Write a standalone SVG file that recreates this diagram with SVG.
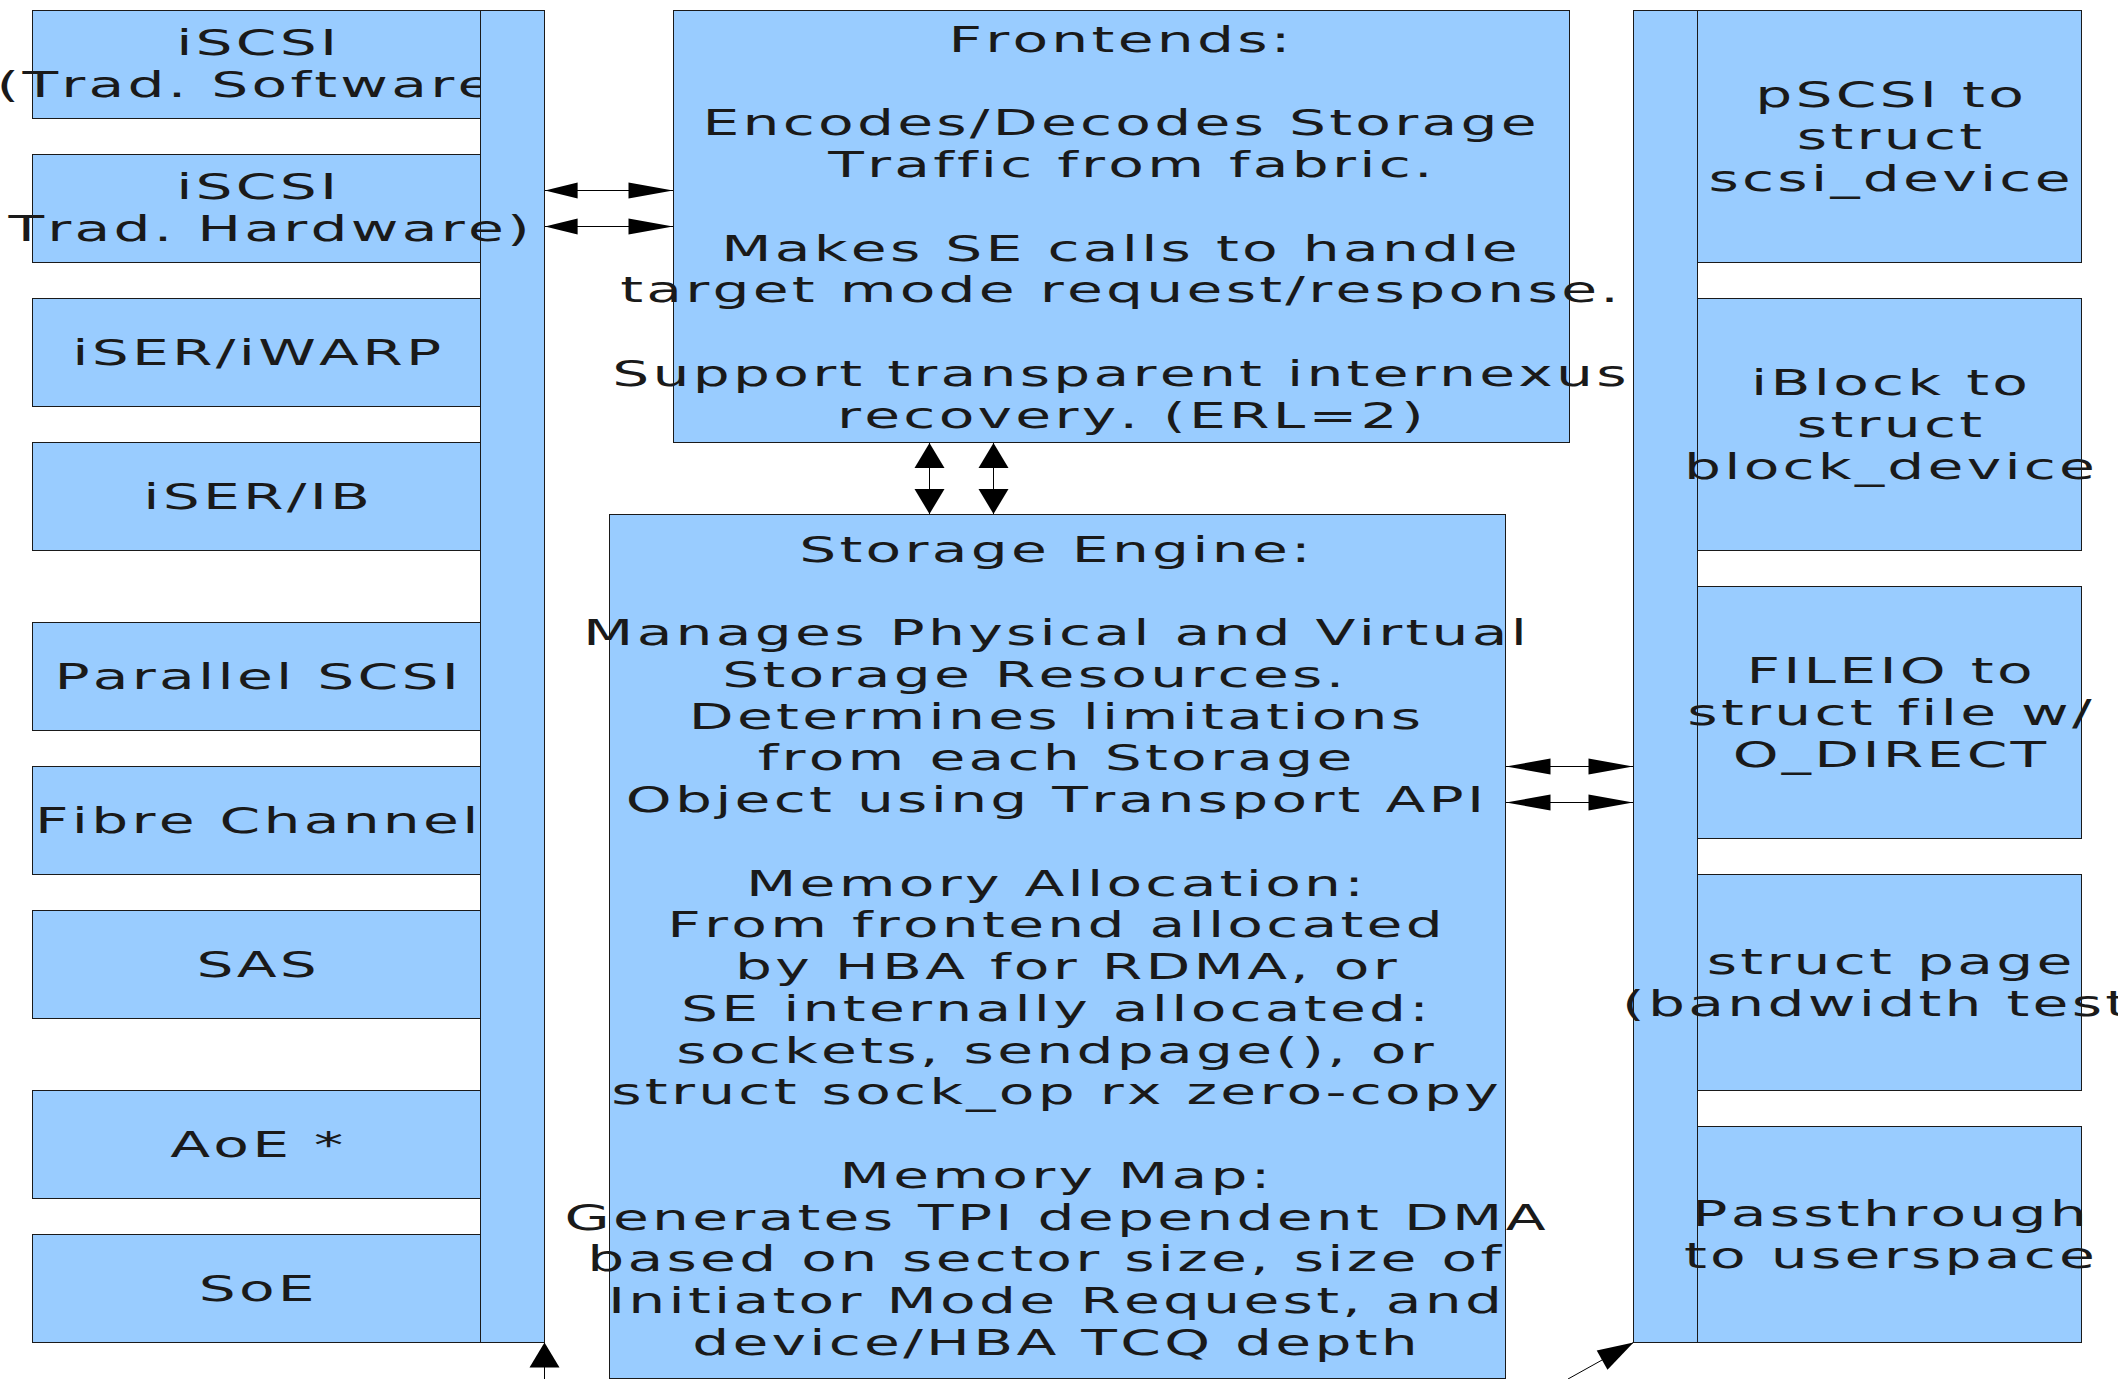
<svg xmlns="http://www.w3.org/2000/svg" width="2118" height="1379" viewBox="0 0 2118 1379">
<defs>
<style>
.box{fill:#99ccff;stroke:#1a1a1a;stroke-width:1}
.t{font-family:"DejaVu Sans","Liberation Sans",sans-serif;font-size:36px;fill:#1a1a1a;text-anchor:middle;letter-spacing:2px;font-kerning:none}
.s{text-anchor:start}
.e{text-anchor:end}
.ln{stroke:#000;stroke-width:1;fill:none}
.ah{fill:#000;stroke:none}
</style>
</defs>
<rect width="2118" height="1379" fill="#ffffff"/>

<g id="iscsi-sw">
<rect class="box" x="32.5" y="10.5" width="448" height="108"/>
<text class="t" transform="matrix(1.62 0 0 1 258.3 0)" x="0" y="55.5">iSCSI</text>
<text class="t s" transform="matrix(1.62 0 0 1 -3.5 0)" x="0" y="97.5">(Trad. Software</text>
</g>

<g id="left-bus">
<rect class="box" x="480.5" y="10.5" width="64" height="1332"/>
</g>

<g id="iscsi-hw">
<rect class="box" x="32.5" y="154.5" width="448" height="108"/>
<text class="t" transform="matrix(1.62 0 0 1 258.3 0)" x="0" y="199.5">iSCSI</text>
<text class="t e" transform="matrix(1.62 0 0 1 533 0)" x="0" y="241.5">Trad. Hardware)</text>
</g>

<g id="iser-iwarp">
<rect class="box" x="32.5" y="298.5" width="448" height="108"/>
<text class="t" transform="matrix(1.62 0 0 1 258.3 0)" x="0" y="365">iSER/iWARP</text>
</g>

<g id="iser-ib">
<rect class="box" x="32.5" y="442.5" width="448" height="108"/>
<text class="t" transform="matrix(1.62 0 0 1 258.3 0)" x="0" y="509">iSER/IB</text>
</g>

<g id="parallel-scsi">
<rect class="box" x="32.5" y="622.5" width="448" height="108"/>
<text class="t" transform="matrix(1.62 0 0 1 258.3 0)" x="0" y="689">Parallel SCSI</text>
</g>

<g id="fibre-channel">
<rect class="box" x="32.5" y="766.5" width="448" height="108"/>
<text class="t" transform="matrix(1.62 0 0 1 258.3 0)" x="0" y="833">Fibre Channel</text>
</g>

<g id="sas">
<rect class="box" x="32.5" y="910.5" width="448" height="108"/>
<text class="t" transform="matrix(1.62 0 0 1 258.3 0)" x="0" y="977">SAS</text>
</g>

<g id="aoe">
<rect class="box" x="32.5" y="1090.5" width="448" height="108"/>
<text class="t" transform="matrix(1.62 0 0 1 258.3 0)" x="0" y="1157">AoE *</text>
</g>

<g id="soe">
<rect class="box" x="32.5" y="1234.5" width="448" height="108"/>
<text class="t" transform="matrix(1.62 0 0 1 258.3 0)" x="0" y="1301">SoE</text>
</g>

<g id="frontends">
<rect class="box" x="673.5" y="10.5" width="896" height="432"/>
<text class="t" transform="matrix(1.62 0 0 1 1121.1 0)"><tspan x="0" y="52">Frontends:</tspan><tspan
 x="0" y="135.5">Encodes/Decodes Storage</tspan><tspan
 x="0" y="177.25">&#160;Traffic from fabric.</tspan><tspan
 x="0" y="260.75">Makes SE calls to handle</tspan><tspan
 x="0" y="302.5">target mode request/response.</tspan><tspan
 x="0" y="386">Support transparent internexus</tspan><tspan
 x="0" y="427.75">&#160;recovery. (ERL=2)</tspan></text>
</g>

<g id="storage-engine">
<rect class="box" x="609.5" y="514.5" width="896" height="864"/>
<text class="t" transform="matrix(1.62 0 0 1 1056.6 0)"><tspan x="0" y="561.7">Storage Engine:</tspan><tspan
 x="0" y="645.2">Manages Physical and Virtual</tspan><tspan
 x="0" y="686.95">Storage Resources.&#160;&#160;</tspan><tspan
 x="0" y="728.7">Determines limitations</tspan><tspan
 x="0" y="770.45">from each Storage</tspan><tspan
 x="0" y="812.2">Object using Transport API</tspan><tspan
 x="0" y="895.7">Memory Allocation:</tspan><tspan
 x="0" y="937.45">From frontend allocated</tspan><tspan
 x="0" y="979.2">&#160;by HBA for RDMA, or</tspan><tspan
 x="0" y="1020.95">SE internally allocated:</tspan><tspan
 x="0" y="1062.7">sockets, sendpage(), or</tspan><tspan
 x="0" y="1104.45">struct sock_op rx zero-copy</tspan><tspan
 x="0" y="1187.95">Memory Map:</tspan><tspan
 x="0" y="1229.7">Generates TPI dependent DMA</tspan><tspan
 x="0" y="1271.45">based on sector size, size of&#160;</tspan><tspan
 x="0" y="1313.2">Initiator Mode Request, and</tspan><tspan
 x="0" y="1354.95">device/HBA TCQ depth</tspan></text>
</g>

<g id="right-bus">
<rect class="box" x="1633.5" y="10.5" width="64" height="1332"/>
</g>

<g id="pscsi">
<rect class="box" x="1697.5" y="10.5" width="384" height="252"/>
<text class="t" transform="matrix(1.62 0 0 1 1891.1 0)"><tspan x="0" y="107">pSCSI to</tspan><tspan
 x="0" y="148.8">struct</tspan><tspan
 x="0" y="190.6">scsi_device</tspan></text>
</g>

<g id="iblock">
<rect class="box" x="1697.5" y="298.5" width="384" height="252"/>
<text class="t" transform="matrix(1.62 0 0 1 1891.1 0)"><tspan x="0" y="395">iBlock to</tspan><tspan
 x="0" y="436.8">struct</tspan><tspan
 x="0" y="478.6">block_device</tspan></text>
</g>

<g id="fileio">
<rect class="box" x="1697.5" y="586.5" width="384" height="252"/>
<text class="t" transform="matrix(1.62 0 0 1 1891.1 0)"><tspan x="0" y="683">FILEIO to</tspan><tspan
 x="0" y="724.8">struct file w/</tspan><tspan
 x="0" y="766.6">O_DIRECT</tspan></text>
</g>

<g id="struct-page">
<rect class="box" x="1697.5" y="874.5" width="384" height="216"/>
<text class="t" transform="matrix(1.62 0 0 1 1891.1 0)" x="0" y="974.5">struct page</text>
<text class="t s" transform="matrix(1.62 0 0 1 1622.1 0)" x="0" y="1016.3">(bandwidth test</text>
</g>

<g id="passthrough">
<rect class="box" x="1697.5" y="1126.5" width="384" height="216"/>
<text class="t" transform="matrix(1.62 0 0 1 1891.1 0)"><tspan x="0" y="1226.5">Passthrough</tspan><tspan
 x="0" y="1268.3">to userspace</tspan></text>
</g>

<g id="connectors">
<line class="ln" x1="545" y1="190.5" x2="673" y2="190.5"/>
<polygon class="ah" points="545,190.5 577.6,182.5 577.6,198.5"/>
<polygon class="ah" points="673,190.5 628.5,182.5 628.5,198.5"/>
<line class="ln" x1="545" y1="226.5" x2="673" y2="226.5"/>
<polygon class="ah" points="545,226.5 577.6,218.5 577.6,234.5"/>
<polygon class="ah" points="673,226.5 628.5,218.5 628.5,234.5"/>

<line class="ln" x1="929.5" y1="443" x2="929.5" y2="514"/>
<polygon class="ah" points="929.5,443 914.5,468 944.5,468"/>
<polygon class="ah" points="929.5,514 914.5,489 944.5,489"/>
<line class="ln" x1="993.5" y1="443" x2="993.5" y2="514"/>
<polygon class="ah" points="993.5,443 978.5,468 1008.5,468"/>
<polygon class="ah" points="993.5,514 978.5,489 1008.5,489"/>

<line class="ln" x1="1506" y1="766.5" x2="1633" y2="766.5"/>
<polygon class="ah" points="1506,766.5 1550.5,758.5 1550.5,774.5"/>
<polygon class="ah" points="1633,766.5 1588.5,758.5 1588.5,774.5"/>
<line class="ln" x1="1506" y1="802.5" x2="1633" y2="802.5"/>
<polygon class="ah" points="1506,802.5 1550.5,794.5 1550.5,810.5"/>
<polygon class="ah" points="1633,802.5 1588.5,794.5 1588.5,810.5"/>

<line class="ln" x1="544.5" y1="1379" x2="544.5" y2="1343"/>
<polygon class="ah" points="544.5,1342.5 529.5,1367.5 559.5,1367.5"/>

<line class="ln" x1="1568" y1="1379" x2="1633.5" y2="1342.5"/>
<polygon class="ah" points="1633.5,1342.5 1607.5,1369.7 1596.7,1350.5"/>
</g>
</svg>
